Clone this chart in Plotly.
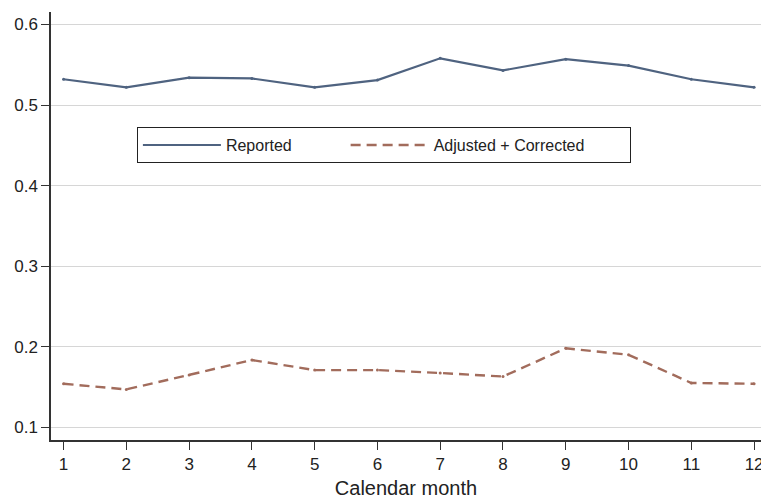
import plotly.graph_objects as go

months = list(range(1, 13))
reported = [0.532, 0.522, 0.534, 0.533, 0.522, 0.531, 0.558, 0.543, 0.557, 0.549, 0.532, 0.522]
adjusted = [0.154, 0.147, 0.165, 0.1835, 0.171, 0.171, 0.1674, 0.163, 0.198, 0.190, 0.155, 0.154]
x_ticks = months
y_ticks = [0.1, 0.2, 0.3, 0.4, 0.5, 0.6]
y_labels = ["0.1", "0.2", "0.3", "0.4", "0.5", "0.6"]
series_names = ["Reported", "Adjusted + Corrected"]

BLUE = "#4f6380"
BROWN = "#a26c5c"
NB = "\u00a0"

fig = go.Figure()
fig.add_trace(go.Scatter(x=months, y=reported, mode="lines", name=series_names[0] + NB * 11,
                         line=dict(color=BLUE, width=2.2)))
fig.add_trace(go.Scatter(x=months, y=adjusted, mode="lines", name=series_names[1] + NB * 9,
                         line=dict(color=BROWN, width=2.4, dash="10px,6px")))
fig.add_trace(go.Scatter(x=months, y=reported, mode="markers", showlegend=False,
                         marker=dict(size=3, color=BLUE)))
fig.add_trace(go.Scatter(x=months, y=adjusted, mode="markers", showlegend=False,
                         marker=dict(size=3, color=BROWN)))

fig.update_layout(
    width=761, height=499,
    margin=dict(l=51, r=0, t=12, b=59),
    paper_bgcolor="white", plot_bgcolor="white",
    font=dict(family="Liberation Sans, Arial, sans-serif", size=17, color="#222"),
    legend=dict(orientation="h", x=0.121, y=0.689, xanchor="left", yanchor="middle",
                bordercolor="#222", borderwidth=1, bgcolor="white",
                itemwidth=78, font=dict(size=16)),
    xaxis=dict(range=[0.8, 12.11], tickvals=x_ticks, showgrid=False, zeroline=False,
               automargin=False, ticklabeloverflow="allow",
               showline=True, linecolor="#333", linewidth=1.5, ticks="outside",
               ticklen=8, tickcolor="#333", tickfont=dict(size=17),
               title=dict(text="Calendar month", font=dict(size=20), standoff=10)),
    yaxis=dict(range=[0.0842, 0.6155], tickvals=y_ticks, ticktext=y_labels,
               automargin=False,
               showgrid=True, gridcolor="#d6d6d6", gridwidth=1, zeroline=False,
               showline=True, linecolor="#333", linewidth=1.5, ticks="outside",
               ticklen=8, tickcolor="#333", tickfont=dict(size=17)),
)

fig.write_html("out.html", config={"displayModeBar": False},
               post_script="document.body.style.margin='0';document.body.style.overflow='hidden';")
